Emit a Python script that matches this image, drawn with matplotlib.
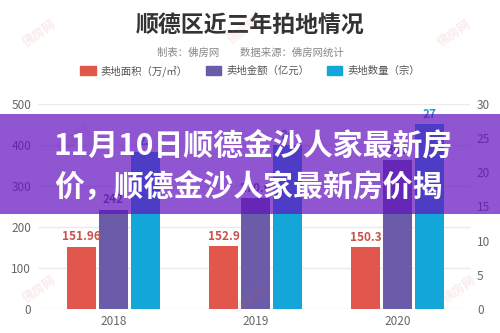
import numpy as np
import matplotlib.pyplot as plt
from matplotlib.patches import Patch, Rectangle

plt.rcParams['font.family'] = ['Noto Sans CJK SC', 'DejaVu Sans']

# 數據
years = ['2018', '2019', '2020']
land_area = [151.96, 152.9, 150.3]      # 卖地面积（万/㎡）
land_amount = [242, 270.6, 363]         # 卖地金额（亿元）
land_count = [23, 24, 27]               # 卖地数量（宗）
area_labels = ['151.96', '152.9', '150.3']
amount_labels = ['242', '270.6', '363']
count_labels = ['23', '24', '27']
left_ticks = [0, 100, 200, 300, 400, 500]
right_ticks = [0, 5, 10, 15, 20, 25, 30]

c_red = '#e2574c'
c_purple = '#6a5ca8'
c_cyan = '#12a6d9'

fig = plt.figure(figsize=(5, 3.33), dpi=100, facecolor='white')
ax = fig.add_axes([0.076, 0.072, 0.864, 0.616])
ax2 = ax.twinx()

x = np.arange(len(years))
w = 0.2
off = 0.225
ax.bar(x - off, land_area, w, color=c_red, zorder=2)
ax.bar(x, land_amount, w, color=c_purple, zorder=2)
ax2.bar(x + off, land_count, w, color=c_cyan, zorder=2)

for i in range(len(years)):
    ax.text(x[i] - off, land_area[i] + 8, area_labels[i], ha='center', va='bottom',
            fontsize=8.5, fontweight='bold', color='#c8524a')
    ax.text(x[i], land_amount[i] + 8, amount_labels[i], ha='center', va='bottom',
            fontsize=8.5, fontweight='bold', color=c_purple)
    ax2.text(x[i] + off, land_count[i] + 0.5, count_labels[i], ha='center', va='bottom',
             fontsize=8.5, fontweight='bold', color='#1a9cc8')

ax.set_xlim(-0.53, 2.51)
ax.set_ylim(0, 500)
ax2.set_ylim(0, 30)
ax.set_yticks(left_ticks)
ax2.set_yticks(right_ticks)
ax.set_xticks(x)
ax.set_xticklabels(years)
ax.grid(axis='y', color='#ebebeb', lw=1, zorder=0)
ax.set_axisbelow(True)
for a in (ax, ax2):
    for s in a.spines.values():
        s.set_visible(False)
    a.tick_params(length=0, labelsize=8.5, labelcolor='#666666')
ax.tick_params(axis='y', pad=5)
ax2.tick_params(axis='y', pad=5)
ax.tick_params(axis='x', pad=4)

# 標題與圖例
fig.text(0.5, 0.925, '顺德区近三年拍地情况', ha='center', va='center',
         fontsize=16.5, fontweight='heavy', color='#333333')
fig.text(0.5, 0.843, '制表：佛房网　　数据来源：佛房网统计', ha='center', va='center',
         fontsize=7.5, color='#888888')
handles = [Patch(color=c_red), Patch(color=c_purple), Patch(color=c_cyan)]
fig.legend(handles, ['卖地面积（万/㎡）', '卖地金额（亿元）', '卖地数量（宗）'],
           loc='center', bbox_to_anchor=(0.5, 0.787), ncol=3, frameon=False,
           fontsize=7.5, handlelength=1.45, handleheight=1.0, handletextpad=0.5,
           columnspacing=1.7, labelcolor='#555555')

# 水印
for wx, wy in [(0.08, 0.90), (0.49, 0.91), (0.91, 0.90), (0.15, 0.58),
               (0.62, 0.55), (0.08, 0.13), (0.50, 0.10), (0.92, 0.13)]:
    fig.text(wx, wy, '佛房网', ha='center', va='center', fontsize=9, fontweight='bold',
             rotation=35, color='#e06060', alpha=0.12)

# 紫色橫幅
fig.add_artist(Rectangle((0, 0.357), 1, 0.3, transform=fig.transFigure,
                         facecolor='#6513be', alpha=0.72, edgecolor='none', zorder=5))
fig.text(0.106, 0.559, '11月10日顺德金沙人家最新房', ha='left', va='center',
         fontsize=21.5, fontweight='heavy', color='white', zorder=6)
fig.text(0.108, 0.436, '价，顺德金沙人家最新房价揭', ha='left', va='center',
         fontsize=21.5, fontweight='heavy', color='white', zorder=6)

fig.savefig('out.png', dpi=100, facecolor='white')
